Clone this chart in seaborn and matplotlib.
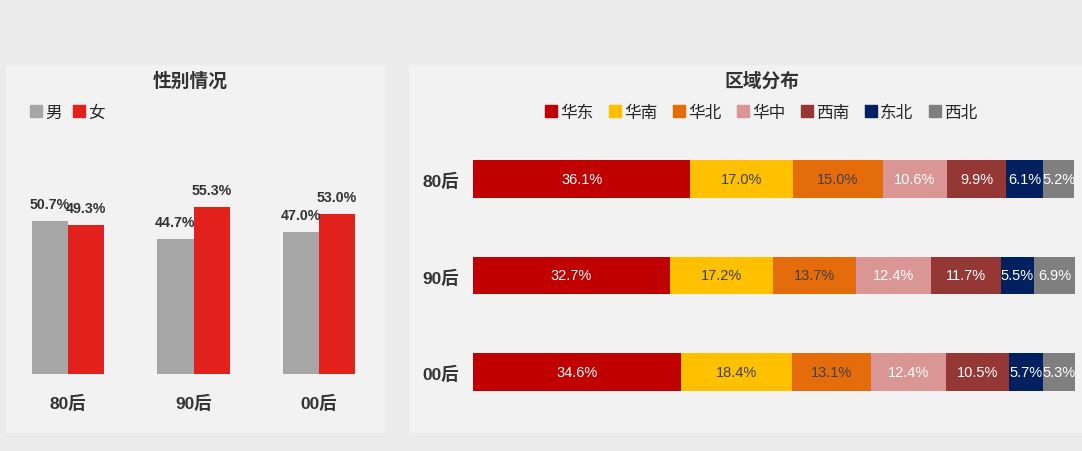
import numpy as np
import pandas as pd
import matplotlib
matplotlib.use("Agg")
import matplotlib.pyplot as plt
from matplotlib.lines import Line2D
from matplotlib import font_manager
import seaborn as sns

# data
ages = ["80后", "90后", "00后"]
male = [50.7, 44.7, 47.0]
female = [49.3, 55.3, 53.0]

regions = ["华东", "华南", "华北", "华中", "西南", "东北", "西北"]
region_share = {
    "80后": [36.1, 17.0, 15.0, 10.6, 9.9, 6.1, 5.2],
    "90后": [32.7, 17.2, 13.7, 12.4, 11.7, 5.5, 6.9],
    "00后": [34.6, 18.4, 13.1, 12.4, 10.5, 5.7, 5.3],
}
region_colors = ["#c00000", "#ffc000", "#e46c0a", "#d99694", "#953735", "#002060", "#7f7f7f"]
label_colors = ["white", "#404040", "#404040", "white", "white", "white", "white"]

sns.set_theme(style="white")
FONT = ["Liberation Sans", "Noto Sans CJK SC", "DejaVu Sans"]
plt.rcParams["font.family"] = FONT
names = {f.name for f in font_manager.fontManager.ttflist}
NARROW = "Liberation Sans Narrow" if "Liberation Sans Narrow" in names else "Liberation Sans"

fig = plt.figure(figsize=(10.82, 4.52), dpi=100, facecolor="#ebebeb")
W, H = 1082, 452

def px_axes(x0, y0, x1, y1, **kw):
    return fig.add_axes([x0 / W, 1 - y1 / H, (x1 - x0) / W, (y1 - y0) / H], **kw)

# panel backgrounds
for x0, x1 in [(6, 385), (409, 1082)]:
    bg = px_axes(x0, 66, x1, 434, facecolor="#f2f2f2")
    bg.set_xticks([]); bg.set_yticks([])
    for s in bg.spines.values():
        s.set_visible(False)

# ---- left: gender
ax1 = px_axes(5, 375 - 80 * 3.02, 382, 375)
ax1.patch.set_alpha(0)
df1 = pd.DataFrame({"age": ages * 2, "sex": ["男"] * 3 + ["女"] * 3, "v": male + female})
sns.barplot(data=df1, x="age", y="v", hue="sex", palette=["#a6a6a6", "#e2211c"],
            width=0.574, ax=ax1, legend=False, saturation=1, linewidth=0)
ax1.set_xlim(-0.5, 2.5)
ax1.set_ylim(0, 80)
for c, cont in enumerate(ax1.containers):
    for bar in cont:
        h = bar.get_height()
        ax1.annotate(f"{h:.1f}%", (bar.get_x() + bar.get_width() / 2, h),
                     xytext=(0, 12.5), textcoords="offset points", ha="center", va="center",
                     fontsize=10.2, fontweight="bold", color="#333333")
ax1.set_xlabel(""); ax1.set_ylabel("")
ax1.set_yticks([])
ax1.set_xticks(range(3))
ax1.set_xticklabels(ages, fontsize=12.5, fontweight="bold", color="#333333")
ax1.tick_params(axis="x", length=0, pad=14)
for s in ax1.spines.values():
    s.set_visible(False)
fig.text(190 / W, 1 - 82 / H, "性别情况", ha="center", va="center", fontsize=13.5,
         fontweight="bold", color="#333333")
h1 = [Line2D([], [], marker="s", ls="", color=c, markersize=9) for c in ["#a6a6a6", "#e2211c"]]
fig.legend(h1, ["男", "女"], loc="center left", bbox_to_anchor=(13 / W, 1 - 113 / H),
           ncol=2, frameon=False, fontsize=12, handletextpad=0.05, columnspacing=0.5,
           handlelength=1.0)

# ---- right: region stacked
ax2 = px_axes(473, 180 - 48.25, 1075, 373 + 48.25)
ax2.patch.set_alpha(0)
mat = np.array([region_share[a] for a in ages])
cum = mat.cumsum(axis=1)
for j in range(len(regions) - 1, -1, -1):
    sns.barplot(x=cum[:, j], y=ages, color=region_colors[j], orient="h", width=0.39,
                ax=ax2, saturation=1, linewidth=0)
ax2.set_xlim(0, 100)
ax2.set_ylim(2.5, -0.5)
for i in range(len(ages)):
    for j in range(len(regions)):
        ax2.text(cum[i, j] - mat[i, j] / 2, i, f"{mat[i, j]:.1f}%", ha="center", va="center",
                 fontsize=10.5, family=NARROW, color=label_colors[j])
ax2.set_xticks([])
ax2.set_yticks(range(3))
ax2.set_yticklabels(ages, fontsize=12.5, fontweight="bold", color="#333333")
ax2.tick_params(axis="y", length=0, pad=10)
ax2.set_xlabel(""); ax2.set_ylabel("")
for s in ax2.spines.values():
    s.set_visible(False)
fig.text(762 / W, 1 - 82 / H, "区域分布", ha="center", va="center", fontsize=13.5,
         fontweight="bold", color="#333333")
h2 = [Line2D([], [], marker="s", ls="", color=c, markersize=9) for c in region_colors]
fig.legend(h2, regions, loc="center", bbox_to_anchor=(760 / W, 1 - 113 / H),
           ncol=7, frameon=False, fontsize=12, handletextpad=0.05, columnspacing=0.8,
           handlelength=1.0)

fig.savefig("out.png", dpi=100, facecolor=fig.get_facecolor())
